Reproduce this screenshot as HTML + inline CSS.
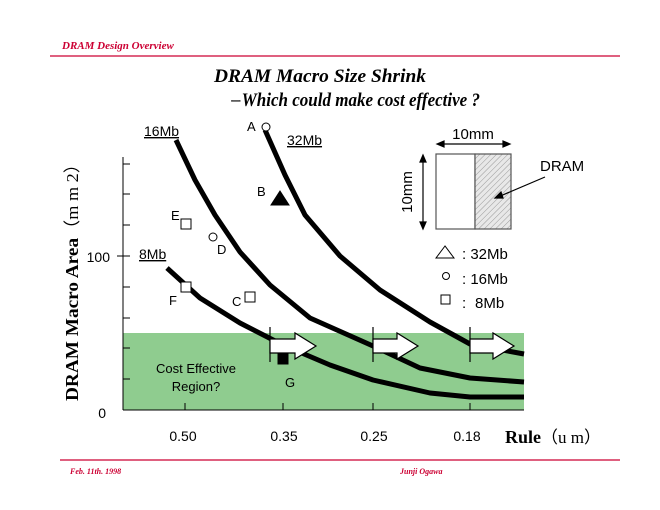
<!DOCTYPE html>
<html><head><meta charset="utf-8"><style>
html,body{margin:0;padding:0;background:#fff;}
svg{display:block;}
</style></head><body>
<svg width="660" height="510" viewBox="0 0 660 510" xmlns="http://www.w3.org/2000/svg">
<defs>
<pattern id="h" width="4" height="4" patternUnits="userSpaceOnUse" patternTransform="rotate(45)">
<rect width="4" height="4" fill="#e8e8e8"/><line x1="0" y1="0" x2="0" y2="4" stroke="#999" stroke-width="1"/>
</pattern>
</defs>
<text x="62" y="49" font-family="Liberation Serif, serif" font-style="italic" font-weight="bold" font-size="11" fill="#cc0033">DRAM Design Overview</text>
<line x1="50" y1="56" x2="620" y2="56" stroke="#cc0033" stroke-width="1.2"/>
<text x="320" y="82" text-anchor="middle" font-family="Liberation Serif, serif" font-style="italic" font-weight="bold" font-size="19" textLength="212" lengthAdjust="spacingAndGlyphs">DRAM Macro Size  Shrink</text>
<text x="230" y="106" font-family="Liberation Serif, serif" font-style="italic" font-weight="bold" font-size="19" textLength="250" lengthAdjust="spacingAndGlyphs"><tspan font-style="normal" font-weight="normal" font-size="13">ー</tspan>Which could make cost effective ?</text>
<rect x="123" y="333" width="401" height="77" fill="#8fcc8f"/>
<line x1="123" y1="157" x2="123" y2="410" stroke="#000" stroke-width="1"/>
<line x1="123" y1="410" x2="524" y2="410" stroke="#000" stroke-width="1"/>
<g stroke="#000" stroke-width="1">
<line x1="123" y1="379" x2="130" y2="379"/><line x1="123" y1="348" x2="130" y2="348"/>
<line x1="123" y1="318" x2="130" y2="318"/><line x1="123" y1="287" x2="130" y2="287"/>
<line x1="117" y1="256" x2="130" y2="256"/><line x1="123" y1="225" x2="130" y2="225"/>
<line x1="123" y1="194" x2="130" y2="194"/><line x1="123" y1="164" x2="130" y2="164"/>
<line x1="185" y1="403" x2="185" y2="410"/><line x1="283" y1="403" x2="283" y2="410"/>
<line x1="373" y1="403" x2="373" y2="410"/><line x1="470" y1="403" x2="470" y2="410"/>
</g>
<g font-family="Liberation Sans, sans-serif" font-size="14">
<text x="110" y="262" text-anchor="end">100</text>
<text x="106" y="418" text-anchor="end">0</text>
<text x="183" y="441" text-anchor="middle">0.50</text>
<text x="284" y="441" text-anchor="middle">0.35</text>
<text x="374" y="441" text-anchor="middle">0.25</text>
<text x="467" y="441" text-anchor="middle">0.18</text>
</g>
<text x="505" y="443" font-family="Liberation Serif, serif" font-weight="bold" font-size="18">Rule<tspan font-weight="normal" font-size="17">（u m）</tspan></text>
<text transform="translate(78,278) rotate(-90)" text-anchor="middle" font-family="Liberation Serif, serif" font-weight="bold" font-size="18" textLength="246" lengthAdjust="spacingAndGlyphs">DRAM Macro Area<tspan font-weight="normal" font-size="17">（m m 2）</tspan></text>
<g fill="none" stroke="#000" stroke-width="5" stroke-linejoin="round">
<polyline points="176,140 195,180 215,215 240,252 270,285 310,318 373,346 420,368 470,378 524,382"/>
<polyline points="265,130 285,175 305,215 340,256 380,290 430,322 470,344 524,354"/>
<polyline points="167,268 200,298 240,323 283,345 330,365 373,380 430,393 470,397 524,397"/>
</g>
<g stroke="#000" stroke-width="1.2">
<line x1="270" y1="327" x2="270" y2="362"/><line x1="373" y1="327" x2="373" y2="362"/><line x1="470" y1="327" x2="470" y2="362"/>
<polygon points="270,339 295,339 295,333 316,346 295,359 295,353 270,353" fill="#fff"/>
<polygon points="373,339 397,339 397,333 418,346 397,359 397,353 373,353" fill="#fff"/>
<polygon points="470,339 493,339 493,333 514,346 493,359 493,353 470,353" fill="#fff"/>
</g>
<g stroke="#000" stroke-width="1" fill="#fff">
<circle cx="266" cy="127" r="4"/>
<polygon points="280,191 271,205 289,205" fill="#000"/>
<rect x="181" y="219" width="10" height="10"/>
<circle cx="213" cy="237" r="4"/>
<rect x="181" y="282" width="10" height="10"/>
<rect x="245" y="292" width="10" height="10"/>
<rect x="278" y="354" width="10" height="10" fill="#000"/>
</g>
<g font-family="Liberation Sans, sans-serif" font-size="13">
<text x="247" y="131">A</text><text x="257" y="196">B</text><text x="171" y="220">E</text>
<text x="217" y="254">D</text><text x="169" y="305">F</text><text x="232" y="306">C</text>
<text x="285" y="387">G</text>
<text x="196" y="373" text-anchor="middle">Cost Effective</text>
<text x="196" y="391" text-anchor="middle">Region?</text>
</g>
<g font-family="Liberation Sans, sans-serif" font-size="14" text-decoration="underline">
<text x="144" y="136">16Mb</text><text x="287" y="145">32Mb</text><text x="139" y="259">8Mb</text>
</g>
<rect x="436" y="154" width="39" height="75" fill="#fff" stroke="#555" stroke-width="1.2"/>
<rect x="475" y="154" width="36" height="75" fill="url(#h)" stroke="#555" stroke-width="1.2"/>
<g stroke="#000" stroke-width="1.2" fill="#000">
<line x1="440" y1="144" x2="507" y2="144"/>
<polygon points="437,144 444,141 444,147"/><polygon points="510,144 503,141 503,147"/>
<line x1="423" y1="158" x2="423" y2="226"/>
<polygon points="423,155 420,162 426,162"/><polygon points="423,229 420,222 426,222"/>
<line x1="545" y1="177" x2="498" y2="197"/>
<polygon points="495,198 501,192 503,198"/>
</g>
<g font-family="Liberation Sans, sans-serif" font-size="15">
<text x="473" y="139" text-anchor="middle">10mm</text>
<text transform="translate(412,192) rotate(-90)" text-anchor="middle">10mm</text>
<text x="540" y="171">DRAM</text>
<text x="462" y="259">: 32Mb</text>
<text x="462" y="284">: 16Mb</text>
<text x="462" y="308">:</text><text x="475" y="308">8Mb</text>
</g>
<polygon points="445,246 436,258 454,258" fill="none" stroke="#000" stroke-width="1"/>
<circle cx="446" cy="276" r="3.5" fill="none" stroke="#000"/>
<rect x="441" y="295" width="9" height="9" fill="none" stroke="#000"/>
<line x1="60" y1="460" x2="620" y2="460" stroke="#cc0033" stroke-width="1.2"/>
<text x="70" y="474" font-family="Liberation Serif, serif" font-style="italic" font-weight="bold" font-size="8" fill="#cc0033">Feb. 11th. 1998</text>
<text x="400" y="474" font-family="Liberation Serif, serif" font-style="italic" font-weight="bold" font-size="8" fill="#cc0033">Junji  Ogawa</text>
</svg>
</body></html>
